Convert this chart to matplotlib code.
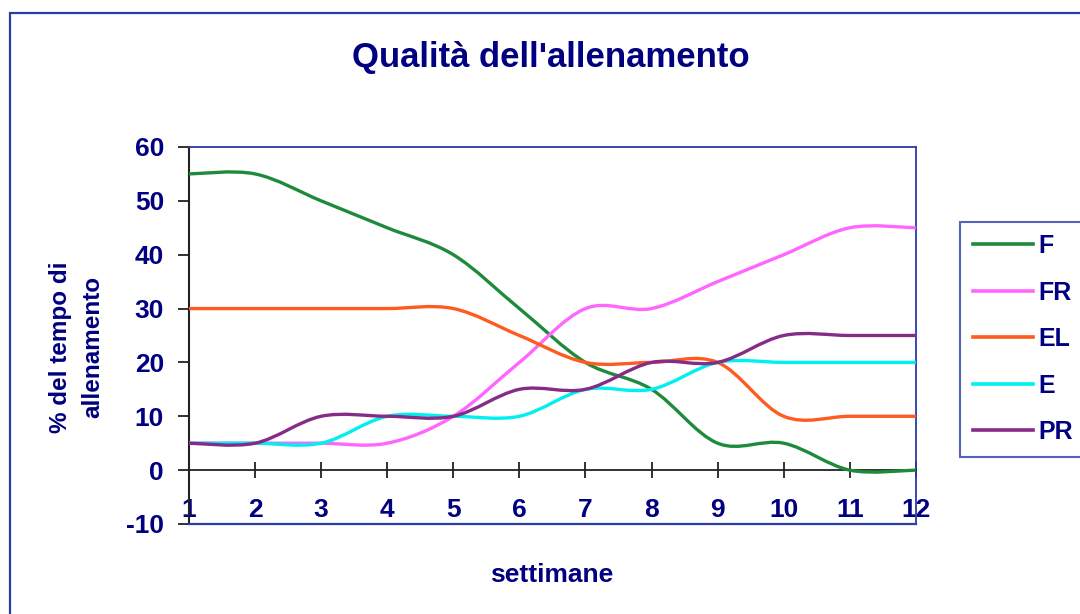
import numpy as np
import matplotlib.pyplot as plt
from matplotlib.path import Path
from matplotlib.patches import PathPatch, Rectangle
from matplotlib.lines import Line2D

weeks = np.arange(1, 13)

series_names = ["F", "FR", "EL", "E", "PR"]
F = [55, 55, 50, 45, 40, 30, 20, 15, 5, 5, 0, 0]
FR = [5, 5, 5, 5, 10, 20, 30, 30, 35, 40, 45, 45]
EL = [30, 30, 30, 30, 30, 25, 20, 20, 20, 10, 10, 10]
E = [5, 5, 5, 10, 10, 10, 15, 15, 20, 20, 20, 20]
PR = [5, 5, 10, 10, 10, 15, 15, 20, 20, 25, 25, 25]
series_values = [F, FR, EL, E, PR]

series_colors = {
    "F": "#1E8B3C",
    "FR": "#FF66FF",
    "EL": "#FF5A1F",
    "E": "#00F0F0",
    "PR": "#862C86",
}

navy = "#000080"
border = "#2A3CA8"

plt.rcParams.update({
    "font.family": ["Liberation Sans", "DejaVu Sans"],
    "font.weight": "bold",
    "axes.unicode_minus": False,
})


def smooth_path(xs, ys):
    # Excel-style smoothed line: cubic bezier between data points
    pts = np.column_stack([xs, ys]).astype(float)
    n = len(pts)
    verts = [pts[0]]
    codes = [Path.MOVETO]
    for i in range(n - 1):
        p0 = pts[max(i - 1, 0)]
        p1 = pts[i]
        p2 = pts[i + 1]
        p3 = pts[min(i + 2, n - 1)]
        c1 = p1 + (p2 - p0) / 6.0
        c2 = p2 - (p3 - p1) / 6.0
        verts += [c1, c2, p2]
        codes += [Path.CURVE4] * 3
    return Path(verts, codes)


fig = plt.figure(figsize=(10.8, 6.14), dpi=100)
ax = fig.add_axes([0.175, 0.1466, 0.673, 0.614])

handles = []
for name, vals in zip(series_names, series_values):
    patch = PathPatch(smooth_path(weeks, vals), facecolor="none",
                      edgecolor=series_colors[name], linewidth=2.4, zorder=3,
                      capstyle="butt")
    ax.add_patch(patch)
    handles.append(Line2D([], [], color=series_colors[name], linewidth=2.6, label=name))

ax.set_xlim(1, 12)
ax.set_ylim(-10, 60)
ax.set_yticks(np.arange(-10, 61, 10))
ax.set_xticks(weeks)

ax.spines["bottom"].set_position(("data", 0))
ax.spines["bottom"].set_color("#222222")
ax.spines["bottom"].set_linewidth(1.3)
ax.spines["left"].set_color("#222222")
ax.spines["left"].set_linewidth(1.5)
for s in ["top", "right"]:
    ax.spines[s].set_color(border)
    ax.spines[s].set_linewidth(1.3)
ax.axhline(-10, color=border, linewidth=1.6, zorder=4, clip_on=False)

ax.tick_params(axis="x", direction="inout", length=12, width=1.3, color="#222222",
               pad=14, labelsize=19, labelcolor=navy)
ax.tick_params(axis="y", direction="out", length=8, width=1.3, color="#222222",
               pad=10, labelsize=19, labelcolor=navy)
for lab in ax.get_xticklabels() + ax.get_yticklabels():
    lab.set_fontweight("bold")

fig.text(0.51, 0.906, "Qualità dell'allenamento", ha="center", va="center",
         fontsize=25, fontweight="bold", color=navy)
fig.text(0.511, 0.064, "settimane", ha="center", va="center",
         fontsize=19, fontweight="bold", color=navy)
fig.text(0.071, 0.435, "% del tempo di\nallenamento", ha="center", va="center",
         rotation=90, fontsize=17.5, fontweight="bold", color=navy, linespacing=1.5)

leg = fig.legend(handles=handles, loc="upper left", bbox_to_anchor=(0.889, 0.639),
                 frameon=True, fancybox=False, fontsize=18, labelspacing=0.9,
                 handlelength=2.4, handletextpad=0.25, borderpad=0.5,
                 borderaxespad=0)
leg.get_frame().set_edgecolor(border)
leg.get_frame().set_linewidth(1.5)
for t in leg.get_texts():
    t.set_color(navy)
    t.set_fontweight("bold")

fig.add_artist(Rectangle((0.0093, -0.1), 1.2, 1.0788, transform=fig.transFigure,
                         fill=False, edgecolor=border, linewidth=1.6))

fig.savefig("out.png", dpi=100, facecolor="white")
